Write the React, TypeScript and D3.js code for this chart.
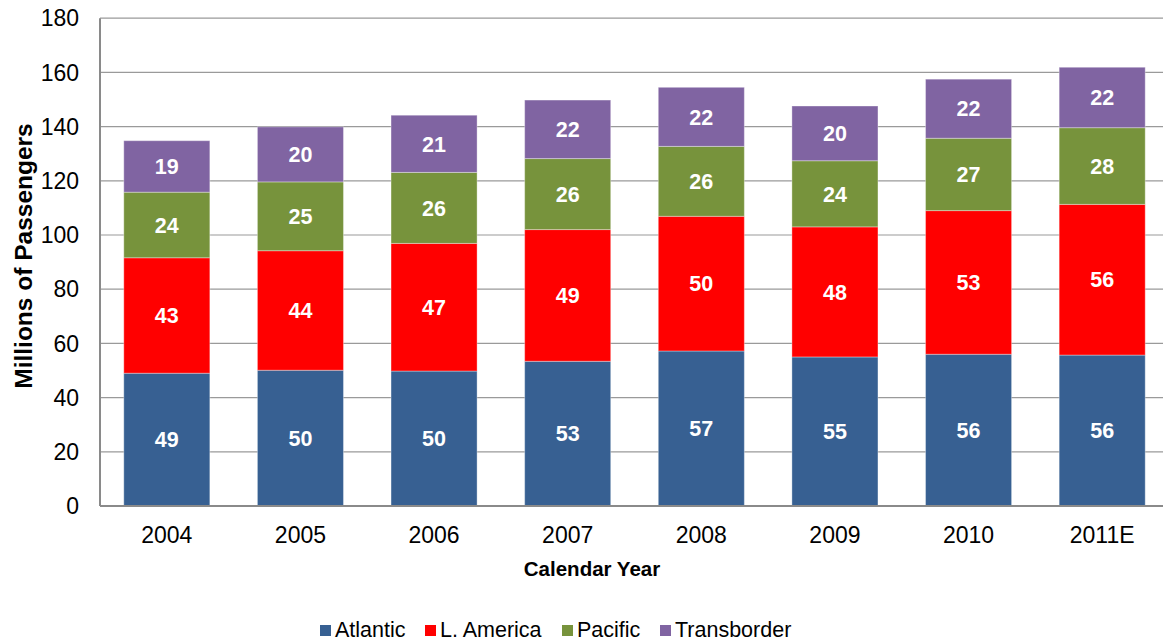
import React from "react";
import * as d3 from "d3";

const years = ["2004", "2005", "2006", "2007", "2008", "2009", "2010", "2011E"];
const atlantic = [49.0, 50.1, 49.8, 53.4, 57.2, 55.0, 56.0, 55.7];
const lAmerica = [42.6, 44.1, 47.1, 48.6, 49.7, 48.0, 53.0, 55.6];
const pacific = [24.2, 25.4, 26.2, 26.2, 25.8, 24.4, 26.7, 28.3];
const transborder = [19.0, 20.3, 21.1, 21.6, 21.8, 20.2, 21.8, 22.3];
const seriesNames = ["Atlantic", "L. America", "Pacific", "Transborder"];
const seriesColors = ["#376092", "#ff0000", "#77933c", "#8064a2"];
const yTicks = [0, 20, 40, 60, 80, 100, 120, 140, 160, 180];

const W = 1163;
const H = 642;
const plotLeft = 100;
const plotRight = 1169;
const plotTop = 18.2;
const plotBottom = 506;
const FONT = "'Liberation Sans', Arial, sans-serif";

export default function App() {
  const seriesData = [atlantic, lAmerica, pacific, transborder];
  const table = years.map((y, i) => {
    const row: any = { year: y };
    seriesNames.forEach((s, k) => (row[s] = seriesData[k][i]));
    return row;
  });
  const stacked = d3.stack<any>().keys(seriesNames)(table);

  const x = d3
    .scaleBand<string>()
    .domain(years)
    .range([plotLeft, plotRight])
    .paddingInner(0.356)
    .paddingOuter(0.178);
  const y = d3.scaleLinear().domain([0, 180]).range([plotBottom, plotTop]);

  const legendX = [320, 425, 562, 660];

  return (
    <div style={{ position: "absolute", left: 0, top: 0 }}>
      <svg width={W} height={H} style={{ display: "block", background: "#fff" }}>
        {yTicks.map((t) =>
          t === 0 ? null : (
            <line
              key={"g" + t}
              x1={plotLeft}
              x2={W}
              y1={y(t)}
              y2={y(t)}
              stroke="#9a9a9a"
              strokeWidth={1.2}
            />
          )
        )}
        {stacked.map((layer, k) => (
          <g key={layer.key}>
            {layer.map((d, i) => (
              <g key={i}>
                <rect
                  x={x(years[i])!}
                  y={y(d[1])}
                  width={x.bandwidth()}
                  height={y(d[0]) - y(d[1])}
                  fill={seriesColors[k]}
                  stroke="rgba(255,255,255,0.35)"
                  strokeWidth={1}
                />
                <text
                  x={x(years[i])! + x.bandwidth() / 2}
                  y={(y(d[0]) + y(d[1])) / 2}
                  dy="0.36em"
                  textAnchor="middle"
                  fill="#fff"
                  fontFamily={FONT}
                  fontWeight="bold"
                  fontSize={21.5}
                >
                  {Math.round(d[1] - d[0])}
                </text>
              </g>
            ))}
          </g>
        ))}
        <line x1={plotLeft} x2={plotLeft} y1={plotTop} y2={plotBottom} stroke="#8a8a8a" strokeWidth={2} />
        <line x1={plotLeft} x2={W} y1={plotBottom} y2={plotBottom} stroke="#8a8a8a" strokeWidth={2} />
        {yTicks.map((t) => (
          <text
            key={"t" + t}
            x={79}
            y={y(t)}
            dy="0.36em"
            textAnchor="end"
            fontFamily={FONT}
            fontSize={23}
            fill="#000"
          >
            {t}
          </text>
        ))}
        {years.map((yr) => (
          <text
            key={"x" + yr}
            x={x(yr)! + x.bandwidth() / 2}
            y={542.7}
            textAnchor="middle"
            fontFamily={FONT}
            fontSize={23}
            fill="#000"
          >
            {yr}
          </text>
        ))}
        <text
          x={592}
          y={576}
          textAnchor="middle"
          fontFamily={FONT}
          fontWeight="bold"
          fontSize={20.5}
        >
          Calendar Year
        </text>
        <text
          transform={`translate(31.5,256) rotate(-90)`}
          textAnchor="middle"
          fontFamily={FONT}
          fontWeight="bold"
          fontSize={24.5}
        >
          Millions of Passengers
        </text>
        {seriesNames.map((s, k) => (
          <g key={"l" + s}>
            <rect x={legendX[k]} y={625} width={11} height={11} fill={seriesColors[k]} />
            <text x={legendX[k] + 15} y={636.7} fontFamily={FONT} fontSize={21.5} fill="#000">
              {s}
            </text>
          </g>
        ))}
      </svg>
    </div>
  );
}
